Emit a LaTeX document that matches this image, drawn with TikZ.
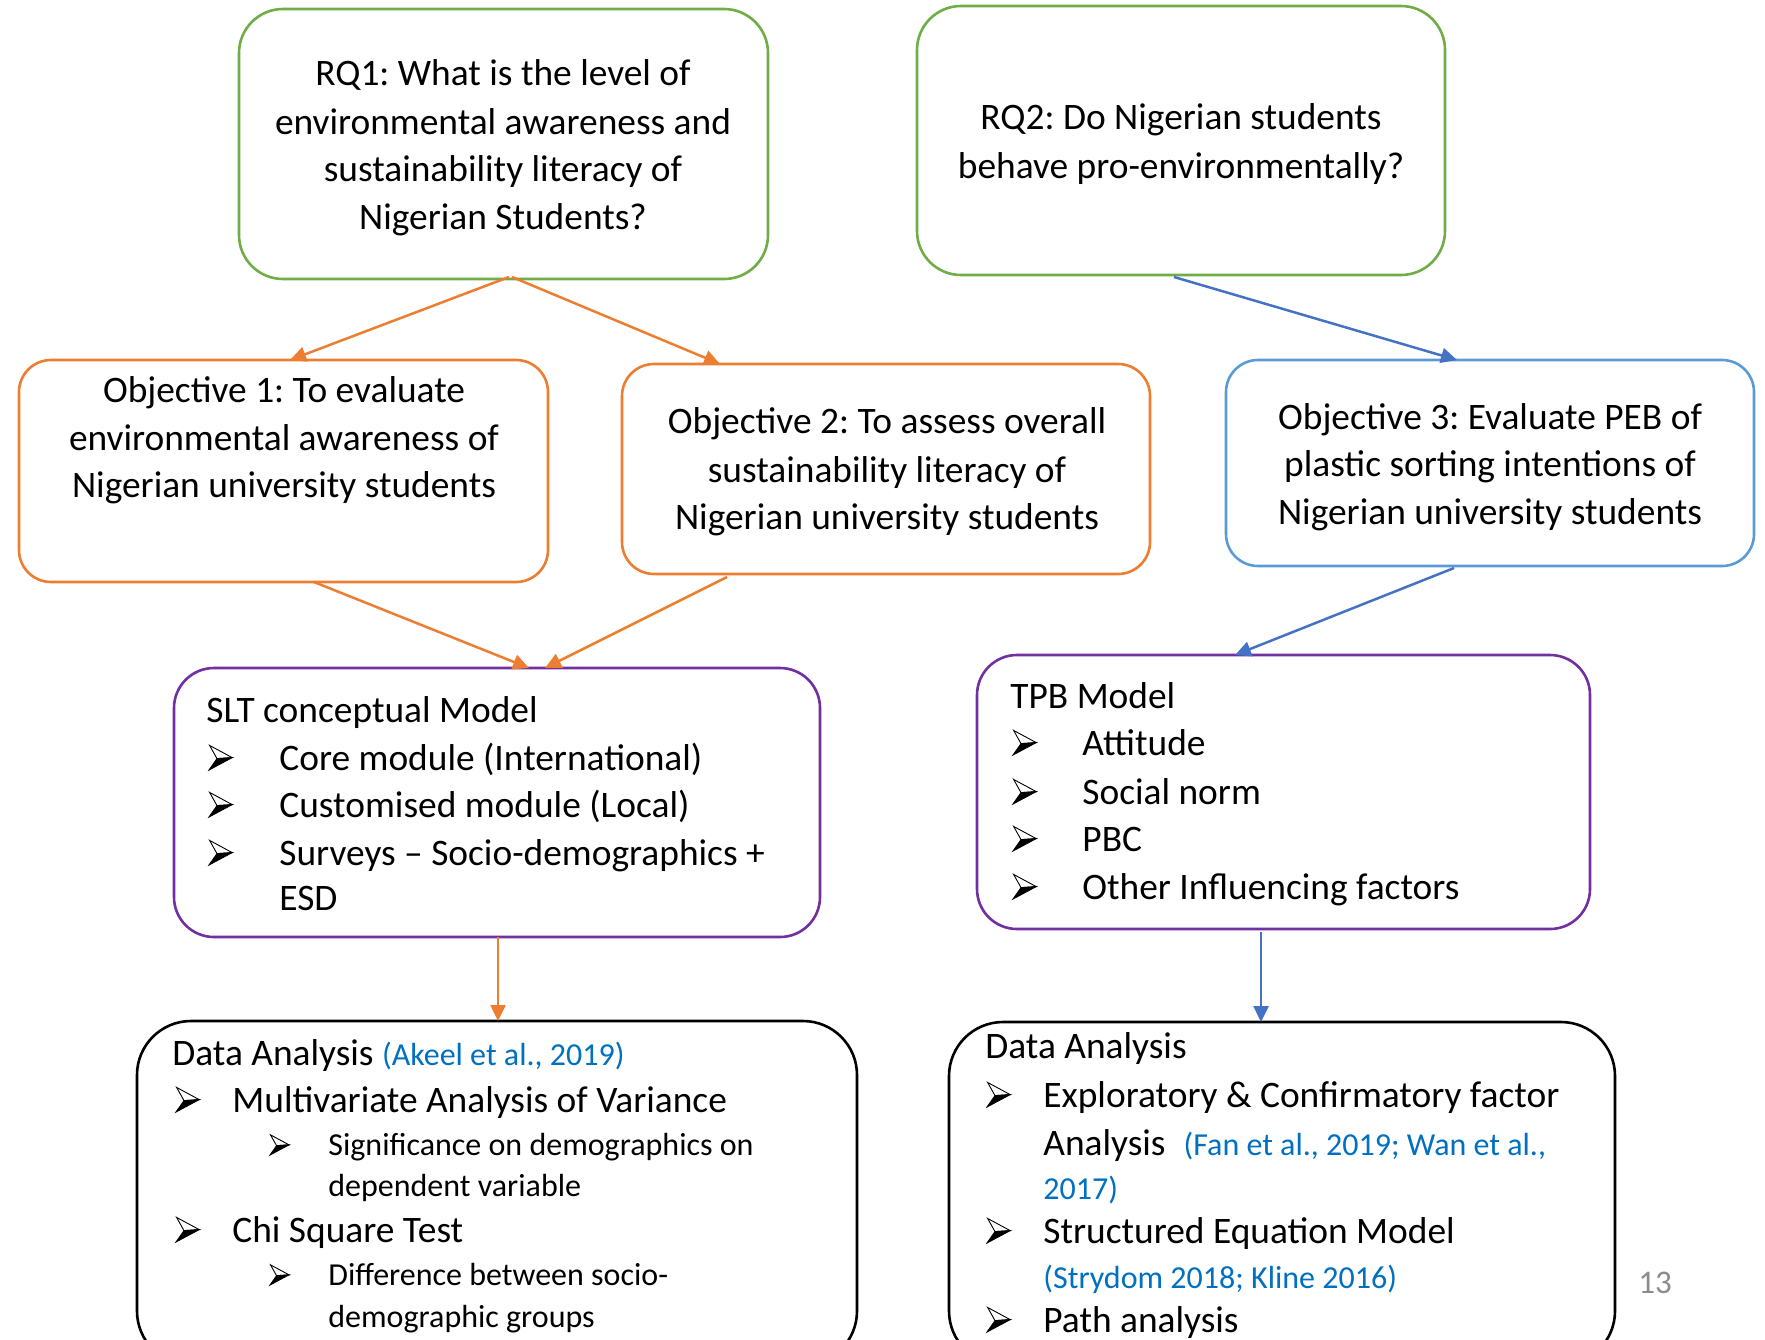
\documentclass[tikz,border=0pt]{standalone}
\usepackage{fontspec}
\setmainfont{Carlito}
\usetikzlibrary{arrows.meta}

\definecolor{rqgreen}{HTML}{70AD47}
\definecolor{objorange}{HTML}{ED7D31}
\definecolor{objblue}{HTML}{5B9BD5}
\definecolor{arrblue}{HTML}{4472C4}
\definecolor{modpurple}{HTML}{7030A0}
\definecolor{citeblue}{HTML}{0070C0}
\definecolor{pagegray}{HTML}{8C8C8C}

\newcommand\mainsize{\fontsize{18.7}{23}\selectfont}
\newcommand\subsize{\fontsize{16}{19}\selectfont}
\newcommand\citeref[1]{{\color{citeblue}\subsize #1}}

\tikzset{
  frame/.style={draw=#1, line width=1.3pt, rounded corners=20pt, inner sep=0pt, outer sep=0pt, fill=white},
  ctr/.style={anchor=base, inner sep=0pt, font=\mainsize},
  lft/.style={anchor=base west, inner sep=0pt, font=\mainsize},
  sub/.style={anchor=base west, inner sep=0pt, font=\subsize},
  link/.style={draw=#1, line width=1.25pt, -{Triangle[length=8pt,width=7.5pt]}},
  % three-dimensional arrowhead used as list bullet
  arrowbullet/.pic={
    \filldraw[fill=white, line width=0.45pt, line join=miter]
      (0.3pt,12.3pt) -- (11.6pt,6.2pt) -- (4pt,5.7pt) -- cycle;
    \filldraw[fill=black, line width=0.45pt, line join=miter]
      (0pt,0pt) -- (11.6pt,6.2pt) -- (4pt,5.7pt) -- cycle;
  },
}

\begin{document}
\frenchspacing
\begin{tikzpicture}[x=0.5pt,y=-0.5pt]
\useasboundingbox (0,0) rectangle (1765,1339);
\clip (0,0) rectangle (1765,1339);

% ---- research questions ----
\node[frame=rqgreen, rounded corners=22pt, minimum width=264.5pt, minimum height=135pt] (rq1) at (503.5,144) {};
\node[frame=rqgreen, rounded corners=22pt, minimum width=264pt, minimum height=134.5pt] (rq2) at (1181,140.5) {};

% ---- objectives ----
\node[frame=objorange, rounded corners=16pt, minimum width=264.5pt, minimum height=111pt] (obj1) at (283.5,471) {};
\node[frame=objorange, rounded corners=16pt, minimum width=264pt, minimum height=105pt] (obj2) at (886,469) {};
\node[frame=objblue, rounded corners=16pt, minimum width=264pt, minimum height=103pt] (obj3) at (1490,463) {};

% ---- models ----
\node[frame=modpurple, minimum width=323pt, minimum height=134.5pt] (slt) at (497,802.5) {};
\node[frame=modpurple, minimum width=306.5pt, minimum height=137pt] (tpb) at (1283.5,792) {};

% ---- analysis boxes (run past the lower edge) ----
\node[frame=black, rounded corners=27pt, minimum width=360pt, minimum height=172pt] (dal) at (497,1193) {};
\node[frame=black, rounded corners=27pt, minimum width=333pt, minimum height=171.5pt] (dar) at (1282,1193.5) {};

% ---- connectors ----
\draw[link=objorange] ([shift={(5.5,-2)}]rq1.south) -- ([shift={(6.5,0)}]obj1.north);
\draw[link=objorange] ([shift={(8.5,-2)}]rq1.south) -- ([shift={(-166,0)}]obj2.north);
\draw[link=arrblue]   ([shift={(-7,2)}]rq2.south) -- ([shift={(-33,0)}]obj3.north);
\draw[link=objorange] ([shift={(30.5,0)}]obj1.south) -- ([shift={(32,0)}]slt.north);
\draw[link=objorange] ([shift={(-159,3)}]obj2.south) -- ([shift={(48,0)}]slt.north);
\draw[link=arrblue]   ([shift={(-36,2)}]obj3.south) -- ([shift={(-48.5,0)}]tpb.north);
\draw[link=objorange] ([shift={(1,0)}]slt.south) -- ([shift={(1,0)}]dal.north);
\draw[link=arrblue]   ([shift={(-22.5,3)}]tpb.south) -- ([shift={(-21,0)}]dar.north);

% ---- question texts ----
\node[ctr] (rq1a) at (503,85)  {RQ1: What is the level of};
\node[ctr] (rq1b) at (503,134) {environmental awareness and};
\node[ctr] (rq1c) at (503,181) {sustainability literacy of};
\node[ctr] (rq1d) at (503,229) {Nigerian Students?};

\node[ctr] (rq2a) at (1181,129) {RQ2: Do Nigerian students};
\node[ctr] (rq2b) at (1181,178) {behave pro-environmentally?};

% ---- objective texts ----
\node[ctr] (o1a) at (284,402) {Objective 1: To evaluate};
\node[ctr] (o1b) at (284,450) {environmental awareness of};
\node[ctr] (o1c) at (284,497) {Nigerian university students};

\node[ctr] (o2a) at (887,433) {Objective 2: To assess overall};
\node[ctr] (o2b) at (887,482) {sustainability literacy of};
\node[ctr] (o2c) at (887,529) {Nigerian university students};

\node[ctr] (o3a) at (1490,429) {Objective 3: Evaluate PEB of};
\node[ctr] (o3b) at (1490,476) {plastic sorting intentions of};
\node[ctr] (o3c) at (1490,524) {Nigerian university students};

% ---- SLT model list ----
\node[lft] (s0) at (206,722) {SLT conceptual Model};
\node[lft] (s1) at (209,770) {\hspace*{35pt}Core module (International)};
\node[lft] (s2) at (209,817) {\hspace*{35pt}Customised module (Local)};
\node[lft] (s3) at (209,865) {\hspace*{35pt}Surveys -- Socio-demographics +};
\node[lft] (s4) at (279,910) {ESD};
\foreach \n in {s1,s2,s3} \pic at (\n.base west) {arrowbullet};

% ---- TPB model list ----
\node[lft] (t0) at (1010,708) {TPB Model};
\node[lft] (t1) at (1013,755) {\hspace*{34.5pt}Attitude};
\node[lft] (t2) at (1013,804) {\hspace*{34.5pt}Social norm};
\node[lft] (t3) at (1013,851) {\hspace*{34.5pt}PBC};
\node[lft] (t4) at (1013,899) {\hspace*{34.5pt}Other Influencing factors};
\foreach \n in {t1,t2,t3,t4} \pic at (\n.base west) {arrowbullet};

% ---- left analysis list ----
\node[lft] (l0) at (172,1065) {Data Analysis \citeref{(Akeel et al., 2019)}};
\node[lft] (l1) at (176,1112) {\hspace*{28pt}Multivariate Analysis of Variance};
\node[sub] (l2) at (270,1155) {\hspace*{29pt}Significance on demographics on};
\node[sub] (l3) at (328,1196) {dependent variable};
\node[lft] (l4) at (176,1242) {\hspace*{28pt}Chi Square Test};
\node[sub] (l5) at (270,1285) {\hspace*{29pt}Difference between socio-};
\node[sub] (l6) at (328,1327) {demographic groups};
\foreach \n in {l1,l4} \pic at (\n.base west) {arrowbullet};
\foreach \n in {l2,l5} \pic[scale=0.82] at (\n.base west) {arrowbullet};

% ---- right analysis list ----
\node[lft] (r0) at (985,1058) {Data Analysis};
\node[lft] (r1) at (987,1107) {\hspace*{28pt}Exploratory \& Confirmatory factor};
\node[lft] (r2) at (1043,1155) {Analysis\hspace{9pt}\citeref{(Fan et al., 2019; Wan et al.,}};
\node[lft] (r3) at (1043,1199) {\citeref{2017)}};
\node[lft] (r4) at (987,1243) {\hspace*{28pt}Structured Equation Model};
\node[lft] (r5) at (1043,1288) {\citeref{(Strydom 2018; Kline 2016)}};
\node[lft] (r6) at (987,1332) {\hspace*{28pt}Path analysis};
\foreach \n in {r1,r4,r6} \pic at (\n.base west) {arrowbullet};

% ---- page number ----
\node[anchor=base, inner sep=0pt, font=\fontsize{16.5}{18}\selectfont, text=pagegray] (pgno) at (1655,1293) {13};
\end{tikzpicture}
\end{document}
